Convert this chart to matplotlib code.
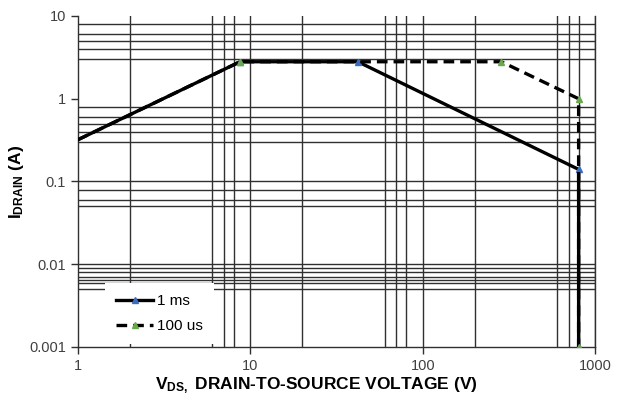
import numpy as np
import matplotlib
matplotlib.use('Agg')
import matplotlib.pyplot as plt

plt.rcParams['font.family'] = ['Liberation Sans', 'DejaVu Sans']
plt.rcParams['mathtext.fontset'] = 'custom'
plt.rcParams['mathtext.rm'] = 'Liberation Sans'
plt.rcParams['mathtext.bf'] = 'Liberation Sans:bold'

# safe operating area curves
v_1ms = [1, 8.7, 42, 800, 800]
i_1ms = [0.32, 2.8, 2.8, 0.14, 0.001]
v_100us = [1, 8.7, 285, 800, 800]
i_100us = [0.32, 2.8, 2.8, 1.0, 0.001]

# grid positions used in the original sheet
x_grid = [2, 6, 7, 8, 10, 20, 60, 70, 80, 100, 200, 600, 700, 800, 1000]
y_grid = [8, 6, 5, 4, 3,
          0.8, 0.6, 0.5, 0.4, 0.3,
          0.1, 0.08, 0.06, 0.05,
          0.01, 0.009, 0.008, 0.007, 0.0065, 0.006, 0.005]
x_ticks = [1, 10, 100, 1000]
x_labels = ['1', '10', '100', '1000']
y_ticks = [0.001, 0.01, 0.1, 1, 10]
y_labels = ['0.001', '0.01', '0.1', '1', '10']

fig = plt.figure(figsize=(6.26, 3.97), dpi=100)
ax = fig.add_axes([0.1246, 0.126, 0.951 - 0.1246, 0.9597 - 0.126])
ax.set_xscale('log')
ax.set_yscale('log')
ax.set_xlim(1, 1000)
ax.set_ylim(0.001, 10)

for xv in x_grid:
    ax.axvline(xv, color='#303030', lw=1.0, zorder=1)
for yv in y_grid:
    ax.axhline(yv, color='#303030', lw=1.0, zorder=1)

ax.plot(v_1ms, i_1ms, color='black', lw=2.4, marker='^', ms=5,
        mfc='#3c6cc0', mec='#3c6cc0', markevery=[1, 2, 3, 4],
        label='1 ms', zorder=3)
ax.plot(v_100us, i_100us, color='black', lw=2.4, ls=(0, (3.2, 1.8)),
        marker='^', ms=5, mfc='#6aa84f', mec='#6aa84f',
        markevery=[1, 2, 3, 4], label='100 us', zorder=4)

ax.set_xticks(x_ticks)
ax.set_xticklabels(x_labels)
ax.set_yticks(y_ticks)
ax.set_yticklabels(y_labels)
ax.minorticks_off()
ax.tick_params(axis='both', direction='out', length=5, width=1,
               color='#303030', labelsize=10.5, labelcolor='#404040')

ax.spines['top'].set_visible(False)
for side in ['left', 'bottom', 'right']:
    ax.spines[side].set_color('#303030')
    ax.spines[side].set_linewidth(1.0)

leg = ax.legend(loc='lower left', bbox_to_anchor=(0.052, 0.008), frameon=True,
                fancybox=False, handlelength=2.4, handletextpad=0.25,
                borderaxespad=0.0, borderpad=0.75, labelspacing=0.7,
                fontsize=11)
leg.get_frame().set_edgecolor('none')
leg.get_frame().set_facecolor('white')
leg.get_frame().set_alpha(1.0)
leg.set_zorder(5)

ax.set_xlabel(r'$\mathbf{V_{DS,}}$ DRAIN-TO-SOURCE VOLTAGE (V)',
              fontsize=12.5, fontweight='bold')
ax.xaxis.set_label_coords(0.46, -0.085)
ax.set_ylabel(r'$\mathbf{I_{DRAIN}}$ (A)', fontsize=12.5, fontweight='bold')
ax.yaxis.set_label_coords(-0.10, 0.50)

fig.savefig('out.png', dpi=100)
